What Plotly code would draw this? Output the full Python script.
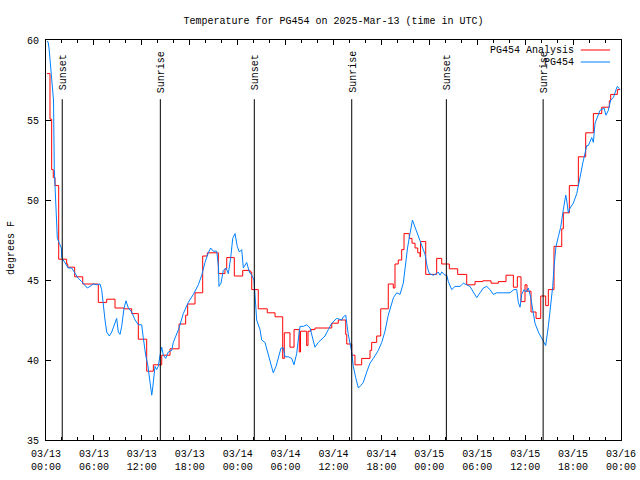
import pandas as pd
import plotly.graph_objects as go

START = pd.Timestamp("2025-03-13 00:00")
END = pd.Timestamp("2025-03-16 00:00")

# Observations (PG454): hours since 03/13 00:00 UTC, degrees F
obs_hours = [0.13, 0.25, 0.38, 0.50, 0.69, 0.75, 0.94, 1.04, 1.16, 1.25, 1.34, 1.42, 1.67, 1.92, 1.97,
             2.17, 2.59, 2.79, 3.22, 3.63, 4.04, 4.47, 4.88, 5.17, 5.51, 5.92, 6.35, 6.76, 6.97, 7.18,
             7.39, 7.60, 7.93, 8.23, 8.64, 8.85, 9.05, 9.27, 9.48, 9.77, 10.02, 10.31, 10.73, 11.15,
             11.56, 11.98, 12.18, 12.48, 12.74, 12.94, 13.24, 13.36, 13.52, 13.65, 13.86, 14.06, 14.28,
             14.49, 14.69, 14.99, 15.31, 15.74, 15.94, 16.37, 16.66, 17.19, 17.82, 18.45, 19.07, 19.50,
             19.91, 20.32, 20.62, 20.95, 21.38, 21.60, 21.66, 21.91, 22.20, 22.54, 22.83, 23.13, 23.38,
             23.67, 23.95, 24.21, 24.51, 24.71, 25.13, 25.46, 25.76, 26.05, 26.17, 26.38, 26.80, 27.01,
             27.42, 27.84, 28.14, 28.46, 28.80, 29.09, 29.43, 29.72, 29.93, 30.34, 30.77, 31.05, 31.39,
             31.59, 31.81, 32.22, 32.64, 33.06, 33.47, 33.68, 34.10, 34.52, 34.94, 35.35, 35.78, 36.40,
             37.03, 37.23, 37.53, 37.66, 37.85, 38.28, 38.48, 38.78, 39.11, 39.41, 39.73, 40.16, 40.57,
             40.99, 41.61, 42.04, 42.45, 42.86, 43.51, 43.92, 44.33, 44.74, 44.95, 45.27, 45.58, 45.89,
             46.21, 46.62, 47.05, 47.46, 47.75, 48.00, 48.50, 48.92, 49.12, 49.34, 49.55, 49.96, 50.18,
             50.38, 50.80, 51.22, 51.84, 52.26, 52.68, 53.09, 53.51, 53.93, 54.35, 54.76, 55.18, 55.60,
             56.01, 56.44, 57.26, 58.10, 58.60, 58.94, 59.14, 59.36, 59.57, 59.86, 60.11, 60.40, 60.70,
             60.95, 61.23, 61.65, 62.07, 62.27, 62.57, 62.90, 63.20, 63.45, 63.61, 63.86, 64.15, 64.45,
             64.78, 65.08, 65.20, 65.40, 65.62, 66.03, 66.46, 66.74, 66.87, 67.21, 67.50, 67.71, 67.91,
             68.33, 68.54, 68.75, 69.37, 69.87, 70.12, 70.41, 70.71, 71.04, 71.38, 71.54, 71.88]
obs_temps = [59.9, 59.9, 59.5, 58.75, 57.8, 57.2, 56.25, 51.9, 50.6, 48.6, 47.7, 47.6, 47.3, 47.0, 46.4,
             46.25, 45.9, 45.75, 45.75, 45.4, 45.1, 44.9, 44.7, 44.5, 44.6, 44.75, 44.7, 44.75, 44.4, 43.3,
             42.5, 41.75, 41.5, 41.75, 42.3, 42.6, 41.75, 41.6, 42.1, 43.25, 43.7, 43.25, 43.0, 42.5,
             42.2, 42.2, 41.4, 40.3, 39.7, 38.9, 37.8, 38.25, 38.9, 39.6, 39.4, 39.6, 40.3,
             40.8, 40.3, 40.1, 40.5, 40.6, 41.1, 41.6, 42.0, 42.9, 43.6, 44.1, 44.7, 45.3,
             46.1, 46.7, 47.0, 46.8, 46.8, 45.8, 44.6, 44.8, 45.6, 45.75, 45.4, 46.4, 47.6,
             47.9, 47.1, 46.75, 46.9, 45.75, 46.1, 45.5, 45.3, 45.0, 43.75, 42.5, 41.9, 41.25,
             41.1, 40.3, 39.8, 39.2, 39.6, 40.1, 40.75, 40.75, 40.2, 40.2, 40.1, 39.7, 40.4,
             41.25, 42.1, 42.1, 42.2, 42.0, 41.25, 40.8, 41.1, 41.3, 41.5, 41.9, 42.3, 42.6,
             42.5, 42.7, 42.8, 42.3, 41.6, 40.5, 39.6, 38.9, 38.25, 38.4, 38.6, 39.25, 39.8,
             40.1, 40.6, 41.1, 41.8, 42.8, 43.9, 44.2, 44.1, 44.8, 45.8, 47.0, 47.9, 48.75,
             48.3, 47.7, 47.1, 46.6, 45.8, 45.4, 45.3, 45.4, 45.5, 45.3, 45.5, 45.3, 45.3,
             44.9, 44.4, 44.6, 44.6, 44.8, 44.7, 44.6, 44.25, 43.9, 44.2, 44.5, 44.6, 44.4,
             44.1, 44.2, 44.2, 44.2, 44.4, 44.4, 43.6, 43.3, 44.1, 44.4, 44.25, 44.5, 43.9,
             43.25, 42.3, 41.75, 41.4, 41.2, 40.9, 42.1, 43.3, 44.6, 45.8, 47.1, 47.7, 48.3,
             49.4, 50.3, 50.0, 49.2, 49.5, 49.8, 50.4, 51.25, 51.4, 52.3, 52.9, 53.4, 53.4,
             53.9, 53.6, 54.8, 55.6, 55.75, 55.3, 55.6, 56.25, 56.4, 56.9, 57.1, 56.9]

# Analysis (PG454 Analysis): step values, hours since 03/13 00:00 UTC
ana_hours = [0.13, 0.50, 0.71, 0.91, 1.13, 1.59, 2.59, 2.72, 3.59, 4.60, 6.55, 7.60, 8.64, 9.77, 10.73,
             11.56, 12.61, 13.44, 14.49, 15.53, 16.66, 17.49, 17.74, 18.66, 19.62, 20.20, 21.58, 22.41,
             22.63, 23.58, 24.63, 25.55, 25.76, 26.58, 27.71, 28.68, 29.64, 29.84, 30.55, 31.06, 31.72,
             31.87, 32.64, 32.81, 33.18, 33.68, 35.78, 36.60, 37.53, 37.66, 38.28, 38.69, 39.53, 40.57,
             40.78, 41.41, 41.91, 42.86, 43.49, 43.70, 44.11, 44.54, 44.83, 45.49, 45.83, 46.21, 46.55,
             46.83, 46.90, 47.55, 48.92, 49.55, 50.50, 51.55, 52.68, 53.72, 54.69, 55.73, 56.64, 57.60,
             58.52, 59.02, 59.48, 59.98, 60.23, 60.73, 61.36, 61.95, 62.57, 62.90, 63.61, 64.58, 64.78,
             65.53, 66.66, 67.58, 68.54, 69.59, 70.54, 70.71, 71.54, 71.88]
ana_temps = [57.9, 55.05, 51.9, 51.4, 50.9, 46.3, 46.0, 45.8, 45.2, 44.75, 43.6, 43.8, 43.25, 43.2, 42.9,
             41.3, 39.3, 39.7, 40.3, 40.7, 42.25, 42.8, 43.5, 44.2, 46.5, 46.7, 45.4, 45.7,
             46.4, 45.25, 45.6, 45.5, 44.4, 43.2, 42.95, 42.7, 40.1, 41.7, 40.8, 41.9, 40.5,
             41.8, 40.9, 41.8, 41.9, 42.0, 42.3, 42.5, 41.6, 41.0, 40.3, 39.7, 40.1, 40.6,
             41.1, 41.5, 43.2, 44.75, 44.5, 46.0, 46.25, 46.9, 47.9, 47.6, 47.3, 47.0, 46.7,
             46.45, 47.4, 45.35, 46.35, 46.0, 45.7, 45.35, 44.7, 44.9, 44.95, 44.8, 44.9, 45.3,
             44.55, 45.2, 43.65, 44.7, 44.3, 43.0, 42.6, 44.0, 43.4, 44.4, 47.1, 48.2, 49.2,
             50.9, 52.7, 54.2, 55.4, 55.8, 56.2, 56.6, 56.9, 56.9]

sun_labels = ["Sunset", "Sunrise", "Sunset", "Sunrise", "Sunset", "Sunrise"]
sun_times = ["2025-03-13 02:02", "2025-03-13 14:19", "2025-03-14 02:05",
             "2025-03-14 14:17", "2025-03-15 02:08", "2025-03-15 14:15"]
SUN_LINE_TOP = 56.3
SUN_LABEL_Y = 58.0

series_names = ["PG454 Analysis", "PG454"]
series_colors = ["#ff0000", "#0080ff"]

FONT = "Liberation Mono, DejaVu Sans Mono, monospace"


def to_time(hours):
    return [START + pd.Timedelta(hours=h) for h in hours]


fig = go.Figure()
fig.add_trace(go.Scatter(x=to_time(ana_hours), y=ana_temps, mode="lines", name=series_names[0],
                         line=dict(color=series_colors[0], width=1, shape="hv"), showlegend=False))
fig.add_trace(go.Scatter(x=to_time(obs_hours), y=obs_temps, mode="lines", name=series_names[1],
                         line=dict(color=series_colors[1], width=1), showlegend=False))

# Sunrise / sunset markers
for lab, t in zip(sun_labels, sun_times):
    ts = pd.Timestamp(t)
    fig.add_shape(type="line", xref="x", yref="y", x0=ts, x1=ts, y0=35, y1=SUN_LINE_TOP,
                  line=dict(color="black", width=1))
    fig.add_annotation(x=ts, y=SUN_LABEL_Y, xref="x", yref="y", text=lab, textangle=-90,
                       showarrow=False, xanchor="center", yanchor="middle", xshift=1,
                       font=dict(family=FONT, size=10, color="black"))

# gnuplot-style legend (text left, line sample right)
leg_y = [0.975, 0.945]
for name, col, ly in zip(series_names, series_colors, leg_y):
    fig.add_annotation(x=0.922, y=ly, xref="paper", yref="paper", text=name, showarrow=False,
                       xanchor="right", yanchor="middle",
                       font=dict(family=FONT, size=10, color="black"))
    fig.add_shape(type="line", xref="paper", yref="paper", x0=0.930, x1=0.981, y0=ly, y1=ly,
                  line=dict(color=col, width=1))

# y-axis label
fig.add_annotation(x=-0.061, y=0.48, xref="paper", yref="paper", text="degrees F", textangle=-90,
                   showarrow=False, xanchor="center", yanchor="middle",
                   font=dict(family=FONT, size=10, color="black"))

fig.update_layout(
    width=640, height=480,
    margin=dict(l=46, r=19, t=40, b=40, autoexpand=False),
    paper_bgcolor="white", plot_bgcolor="white",
    font=dict(family=FONT, size=10, color="black"),
    title=dict(text="Temperature for PG454 on 2025-Mar-13 (time in UTC)", x=0.5, xref="paper",
               xanchor="center", y=1 - 20 / 480, yanchor="middle",
               font=dict(family=FONT, size=10, color="black")),
    showlegend=False,
)
fig.update_xaxes(
    type="date", range=[START, END], automargin=False,
    tick0=START, dtick=6 * 3600 * 1000, tickformat="%m/%d<br>%H:%M",
    ticks="inside", ticklen=5, tickcolor="black", ticklabelstandoff=4,
    minor=dict(dtick=2 * 3600 * 1000, ticks="inside", ticklen=3, tickcolor="black"),
    showline=True, linecolor="black", linewidth=1, mirror="allticks",
    showgrid=False, zeroline=False,
    tickfont=dict(family=FONT, size=10, color="black"),
)
fig.update_yaxes(
    range=[35, 60], dtick=5, tick0=35, automargin=False,
    ticks="inside", ticklen=5, tickcolor="black", ticklabelstandoff=4,
    showline=True, linecolor="black", linewidth=1, mirror="allticks",
    showgrid=False, zeroline=False,
    tickfont=dict(family=FONT, size=10, color="black"),
)

fig.write_html("out.html",
               config={"displayModeBar": False},
               post_script="document.body.style.margin='0px';document.body.style.overflow='hidden';")
